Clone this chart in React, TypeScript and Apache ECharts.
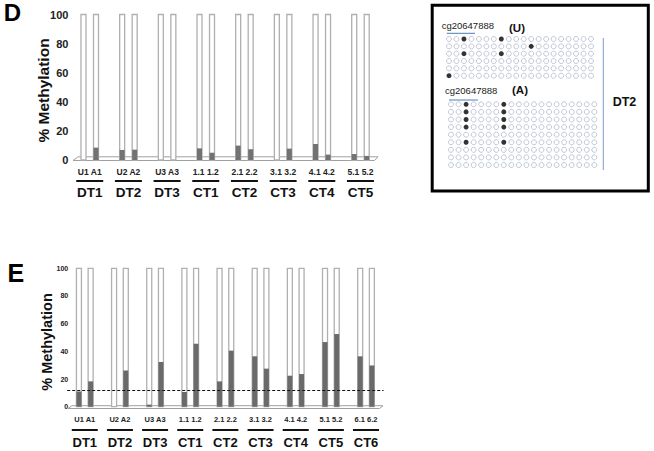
import React, { useEffect, useRef } from "react";
import * as echarts from "echarts";

const FONT = "'Liberation Sans', Arial, sans-serif";

// Panel D
const groupsD = ["DT1", "DT2", "DT3", "CT1", "CT2", "CT3", "CT4", "CT5"];
const subD = ["U1 A1", "U2 A2", "U3 A3", "1.1 1.2", "2.1 2.2", "3.1 3.2", "4.1 4.2", "5.1 5.2"];
const firstD = [0, 6.9, 0, 8, 9.9, 0, 11, 4.1];
const secondD = [8.5, 7.1, 0, 5, 7.4, 7.8, 3.7, 2.8];

// Panel E
const groupsE = ["DT1", "DT2", "DT3", "CT1", "CT2", "CT3", "CT4", "CT5", "CT6"];
const subE = ["U1 A1", "U2 A2", "U3 A3", "1.1 1.2", "2.1 2.2", "3.1 3.2", "4.1 4.2", "5.1 5.2", "6.1 6.2"];
const firstE = [11, 0, 1.5, 10.6, 18.3, 36.4, 22.4, 46.7, 36.4];
const secondE = [18.3, 26.2, 32.3, 45.5, 40.5, 27.5, 23.6, 52.5, 29.8];
const thresholdE = 12;

// Methylation dot patterns (DT2, cg20647888)
const uRows = [
  "00100001000000000000",
  "00000000000100000000",
  "00100001000000000000",
  "00000000000000000000",
  "00000000000000000000",
  "10000000000000000000",
];
const aRows = [
  "00100001000000000000",
  "00100001000000000000",
  "00100001000000000000",
  "00100001000000000000",
  "00000000000000000000",
  "00100001000000000000",
  "00000000000000000000",
  "00000000000000000000",
  "00000000000000000000",
];

function dots(rows: string[], ch: string) {
  const out: number[][] = [];
  rows.forEach((row, r) => {
    row.split("").forEach((c, i) => {
      if (c === ch) out.push([i, r]);
    });
  });
  return out;
}

export default function App() {
  const ref = useRef<HTMLDivElement>(null);
  useEffect(() => {
    if (!ref.current) return;
    const chart = echarts.init(ref.current, null, { renderer: "svg" });

    const xLabel = (subs: string[], s: any, b: any, g: any) => ({
      interval: 0,
      hideOverlap: false,
      formatter: (v: string, i: number) => `{s|${subs[i]}}\n{b|}\n{g|${v}}`,
      rich: { s, b, g },
    });

    const bgStyle = { color: "#fff", borderColor: "#b0b0b0", borderWidth: 1.3 };
    const barStyle = (c: string) => ({ color: c, borderWidth: 0 });

    const option: any = {
      animation: false,
      backgroundColor: "#fff",
      textStyle: { fontFamily: FONT },
      grid: [
        { left: 70.4, top: 14.5, width: 309.4, height: 145.5, outerBoundsMode: "none" },
        { left: 67.2, top: 268.3, width: 316.4, height: 138.4, outerBoundsMode: "none" },
        { left: 449, top: 39, width: 142, height: 36.7, outerBoundsMode: "none" },
        { left: 451, top: 104.3, width: 143.3, height: 60.7, outerBoundsMode: "none" },
      ],
      xAxis: [
        {
          type: "category", gridIndex: 0, data: groupsD,
          axisLine: { show: false }, axisTick: { show: false },
          axisLabel: {
            margin: 6.7,
            ...xLabel(
              subD,
              { fontSize: 8.5, fontWeight: "bold", lineHeight: 10, color: "#222", fontFamily: FONT },
              { width: 27, height: 2, lineHeight: 8.6, backgroundColor: "#111" },
              { fontSize: 13.5, fontWeight: "bold", lineHeight: 14.4, color: "#111", fontFamily: FONT }
            ),
          },
        },
        {
          type: "category", gridIndex: 1, data: groupsE,
          axisLine: { show: false }, axisTick: { show: false },
          axisLabel: {
            margin: 7.8,
            ...xLabel(
              subE,
              { fontSize: 7.5, fontWeight: "bold", lineHeight: 9, color: "#222", fontFamily: FONT },
              { width: 26, height: 2, lineHeight: 13, backgroundColor: "#111" },
              { fontSize: 13, fontWeight: "bold", lineHeight: 11, color: "#111", fontFamily: FONT }
            ),
          },
        },
        { type: "value", gridIndex: 2, min: 0, max: 19, show: false },
        { type: "value", gridIndex: 3, min: 0, max: 19, show: false },
      ],
      yAxis: [
        {
          type: "value", gridIndex: 0, min: 0, max: 100, interval: 20,
          axisLine: { show: false }, axisTick: { show: false }, splitLine: { show: false },
          axisLabel: { margin: 2, fontSize: 11, fontWeight: "bold", color: "#222", fontFamily: FONT },
        },
        {
          type: "value", gridIndex: 1, min: 0, max: 100, interval: 20,
          axisLine: { show: false }, axisTick: { show: false }, splitLine: { show: false },
          axisLabel: { margin: -1, fontSize: 7, fontWeight: "bold", color: "#222", fontFamily: FONT },
        },
        { type: "value", gridIndex: 2, min: 0, max: 5, inverse: true, show: false },
        { type: "value", gridIndex: 3, min: 0, max: 8, inverse: true, show: false },
      ],
      series: [
        {
          type: "bar", xAxisIndex: 0, yAxisIndex: 0, data: firstD, barWidth: 5, barGap: "150%",
          showBackground: true, backgroundStyle: bgStyle, itemStyle: barStyle("#727272"), z: 3,
        },
        {
          type: "bar", xAxisIndex: 0, yAxisIndex: 0, data: secondD, barWidth: 5, barGap: "150%",
          showBackground: true, backgroundStyle: bgStyle, itemStyle: barStyle("#727272"), z: 3,
        },
        {
          type: "bar", xAxisIndex: 1, yAxisIndex: 1, data: firstE, barWidth: 5, barGap: "134%",
          showBackground: true, backgroundStyle: bgStyle, itemStyle: barStyle("#6a6a6a"), z: 3,
        },
        {
          type: "bar", xAxisIndex: 1, yAxisIndex: 1, data: secondE, barWidth: 5, barGap: "134%",
          showBackground: true, backgroundStyle: bgStyle, itemStyle: barStyle("#6a6a6a"), z: 3,
          markLine: {
            silent: true, symbol: ["none", "none"], label: { show: false },
            lineStyle: { type: [3, 2], color: "#111", width: 1 },
            data: [{ yAxis: thresholdE }],
          },
        },
        {
          type: "scatter", xAxisIndex: 2, yAxisIndex: 2, data: dots(uRows, "0"), symbolSize: 5,
          itemStyle: { color: "#fff", borderColor: "#9ea8c2", borderWidth: 0.8 },
        },
        {
          type: "scatter", xAxisIndex: 2, yAxisIndex: 2, data: dots(uRows, "1"), symbolSize: 5,
          itemStyle: { color: "#000" },
        },
        {
          type: "scatter", xAxisIndex: 3, yAxisIndex: 3, data: dots(aRows, "0"), symbolSize: 5,
          itemStyle: { color: "#fff", borderColor: "#9ea8c2", borderWidth: 0.8 },
        },
        {
          type: "scatter", xAxisIndex: 3, yAxisIndex: 3, data: dots(aRows, "1"), symbolSize: 5,
          itemStyle: { color: "#000" },
        },
      ],
      graphic: [
        // floors
        {
          type: "polyline", z: 1,
          shape: { points: [[73, 160.5], [78, 156.8], [378, 156.8], [374.5, 160.5], [73, 160.5]] },
          style: { stroke: "#a0a0a0", lineWidth: 1, fill: "none" },
        },
        {
          type: "polyline", z: 1,
          shape: { points: [[68, 408.5], [72, 405.7], [383, 405.7], [379.5, 408.5], [68, 408.5]] },
          style: { stroke: "#a0a0a0", lineWidth: 1, fill: "none" },
        },
        // panel letters
        { type: "text", x: 12.4, y: 12.5, style: { text: "D", font: `bold 24px ${FONT}`, fill: "#000", textAlign: "center", textVerticalAlign: "middle" } },
        { type: "text", x: 15.8, y: 272.5, style: { text: "E", font: `bold 25px ${FONT}`, fill: "#000", textAlign: "center", textVerticalAlign: "middle" } },
        // y titles
        { type: "text", x: 43, y: 90.5, rotation: Math.PI / 2, style: { text: "% Methylation", font: `bold 15.5px ${FONT}`, fill: "#111", textAlign: "center", textVerticalAlign: "middle" } },
        { type: "text", x: 46.7, y: 342, rotation: Math.PI / 2, style: { text: "% Methylation", font: `bold 14.5px ${FONT}`, fill: "#111", textAlign: "center", textVerticalAlign: "middle" } },
        // box
        { type: "rect", shape: { x: 432.2, y: 5.3, width: 216.1, height: 185.7 }, style: { stroke: "#000", lineWidth: 3, fill: "none" } },
        { type: "text", x: 441.7, y: 25, style: { text: "cg20647888", font: `9.5px ${FONT}`, fill: "#222", textAlign: "left", textVerticalAlign: "middle" } },
        { type: "line", shape: { x1: 446.7, y1: 33.3, x2: 475, y2: 33.3 }, style: { stroke: "#4a7ebb", lineWidth: 1 } },
        { type: "text", x: 509, y: 28.3, style: { text: "(U)", font: `bold 11.5px ${FONT}`, fill: "#111", textAlign: "left", textVerticalAlign: "middle" } },
        { type: "text", x: 445, y: 90, style: { text: "cg20647888", font: `9.5px ${FONT}`, fill: "#222", textAlign: "left", textVerticalAlign: "middle" } },
        { type: "line", shape: { x1: 449, y1: 100, x2: 478, y2: 100 }, style: { stroke: "#4a7ebb", lineWidth: 1 } },
        { type: "text", x: 512, y: 90, style: { text: "(A)", font: `bold 11.5px ${FONT}`, fill: "#111", textAlign: "left", textVerticalAlign: "middle" } },
        { type: "line", shape: { x1: 603.3, y1: 38, x2: 603.3, y2: 170 }, style: { stroke: "#7f9ccb", lineWidth: 1 } },
        { type: "text", x: 612.7, y: 101.7, style: { text: "DT2", font: `bold 12.5px ${FONT}`, fill: "#111", textAlign: "left", textVerticalAlign: "middle" } },
      ],
    };
    chart.setOption(option);
    return () => chart.dispose();
  }, []);
  return (
    <div
      ref={ref}
      style={{ position: "fixed", left: 0, top: 0, width: 654, height: 451, background: "#fff" }}
    />
  );
}
